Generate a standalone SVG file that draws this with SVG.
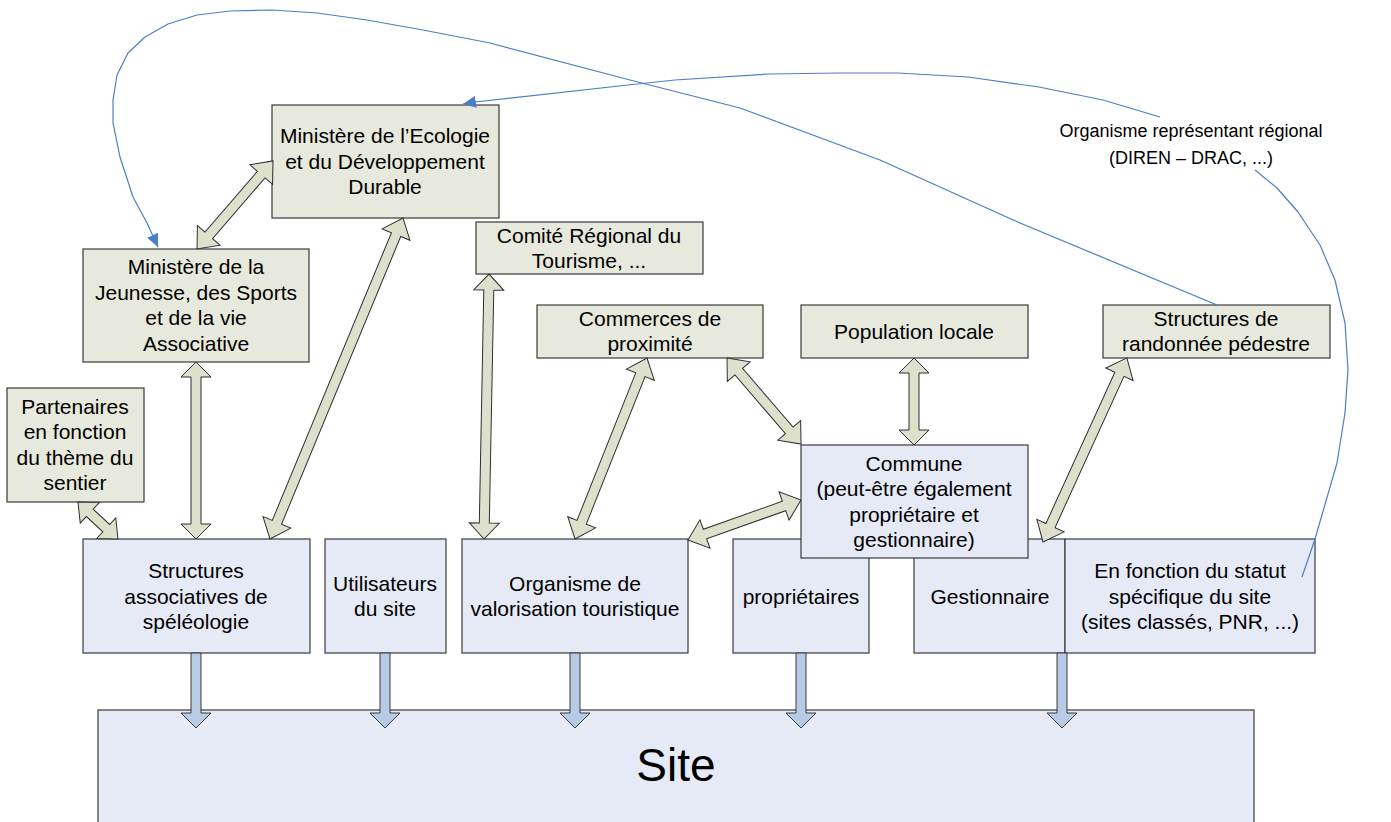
<svg xmlns="http://www.w3.org/2000/svg" width="1391" height="822" viewBox="0 0 1391 822">
<style>
.g{fill:#E7E9DC;stroke:#3a3a3a;stroke-width:1.2}
.b{fill:#E6EAF6;stroke:#3a3a3a;stroke-width:1.2}
text{font-family:"Liberation Sans",Arial,sans-serif;font-size:21px;fill:#000;text-anchor:middle}
.lbl{font-size:18px}
.site{font-size:46px}
.ga{fill:#DDE0CB;stroke:#2f2f2f;stroke-width:1}
.ba{fill:#B8CBE4;stroke:#3a3a3a;stroke-width:1}
.cv{fill:none;stroke:#4A7EC8;stroke-width:1.2;stroke-linejoin:round}
</style>
<defs>
<marker id="ah" markerUnits="userSpaceOnUse" markerWidth="14" markerHeight="12" refX="13" refY="6" orient="auto">
<path d="M0,0 L13,6 L0,12 Z" fill="#4A7EC8"/>
</marker>
<path id="down" d="M-5,653 L5,653 L5,713 L15,713 L0,728 L-15,713 L-5,713 Z"/>
</defs>
<rect width="1391" height="822" fill="#fff"/>

<g id="site"><rect class="b" x="98" y="710" width="1156" height="130"/><text class="site" x="676" y="781">Site</text></g>

<g id="ecologie"><rect class="g" x="272" y="105" width="227" height="113"/>
<text x="385" y="143">Ministère de l’Ecologie</text><text x="385" y="169">et du Développement</text><text x="385" y="194">Durable</text></g>

<g id="jeunesse"><rect class="g" x="83" y="249" width="226" height="113"/>
<text x="196" y="274">Ministère de la</text><text x="196" y="300">Jeunesse, des Sports</text><text x="196" y="325">et de la vie</text><text x="196" y="351">Associative</text></g>

<g id="comite"><rect class="g" x="476" y="222" width="227" height="52"/>
<text x="589" y="243">Comité Régional du</text><text x="589" y="268">Tourisme, ...</text></g>

<g id="commerces"><rect class="g" x="537" y="305" width="226" height="53"/>
<text x="650" y="326">Commerces de</text><text x="650" y="351">proximité</text></g>

<g id="population"><rect class="g" x="801" y="305" width="227" height="53"/>
<text x="914" y="339">Population locale</text></g>

<g id="randonnee"><rect class="g" x="1103" y="305" width="227" height="53"/>
<text x="1216" y="326">Structures de</text><text x="1216" y="351">randonnée pédestre</text></g>

<g id="partenaires"><rect class="g" x="7" y="388" width="137" height="114"/>
<text x="75" y="414">Partenaires</text><text x="75" y="439">en fonction</text><text x="75" y="465">du thème du</text><text x="75" y="490">sentier</text></g>

<g id="structures"><rect class="b" x="83" y="539" width="227" height="114"/>
<text x="196" y="578">Structures</text><text x="196" y="604">associatives de</text><text x="196" y="629">spéléologie</text></g>

<g id="utilisateurs"><rect class="b" x="325" y="539" width="121" height="114"/>
<text x="385" y="591">Utilisateurs</text><text x="385" y="616">du site</text></g>

<g id="organisme"><rect class="b" x="462" y="539" width="226" height="114"/>
<text x="575" y="591">Organisme de</text><text x="575" y="616">valorisation touristique</text></g>

<g id="proprietaires"><rect class="b" x="733" y="539" width="136" height="114"/>
<text x="801" y="604">propriétaires</text></g>

<g id="gestionnaire"><rect class="b" x="914" y="539" width="151" height="114"/>
<text x="990" y="604">Gestionnaire</text></g>

<g id="statut"><rect class="b" x="1065" y="539" width="250" height="114"/>
<text x="1190" y="578">En fonction du statut</text><text x="1190" y="604">spécifique du site</text><text x="1190" y="629">(sites classés, PNR, ...)</text></g>

<g id="commune"><rect class="b" x="801" y="445" width="227" height="113"/>
<text x="914" y="471">Commune</text><text x="914" y="496">(peut-être également</text><text x="914" y="522">propriétaire et</text><text x="914" y="547">gestionnaire)</text></g>

<g id="regional"><text class="lbl" x="1191" y="137">Organisme représentant régional</text><text class="lbl" x="1191" y="164">(DIREN – DRAC, ...)</text></g>

<g id="connectors">
<g transform="translate(197,249) rotate(-49.2)"><path class="ga" d="M0,0 L18,-15 L18,-5 L98.3,-5 L98.3,-15 L116.3,0 L98.3,15 L98.3,5 L18,5 L18,15 Z"/></g>
<g transform="translate(196,362) rotate(90)"><path class="ga" d="M0,0 L15,-15 L15,-5 L162,-5 L162,-15 L177,0 L162,15 L162,5 L15,5 L15,15 Z"/></g>
<g transform="translate(270,539) rotate(-67.5)"><path class="ga" d="M0,0 L18,-15 L18,-5 L329.5,-5 L329.5,-15 L347.5,0 L329.5,15 L329.5,5 L18,5 L18,15 Z"/></g>
<g transform="translate(78,502) rotate(42.8)"><path class="ga" d="M0,0 L16,-14 L16,-5 L38.5,-5 L38.5,-14 L54.5,0 L38.5,14 L38.5,5 L16,5 L16,14 Z"/></g>
<g transform="translate(484,539) rotate(-88.9)"><path class="ga" d="M0,0 L16,-15 L16,-5 L249,-5 L249,-15 L265,0 L249,15 L249,5 L16,5 L16,15 Z"/></g>
<g transform="translate(575,539) rotate(-68.3)"><path class="ga" d="M0,0 L18,-15 L18,-5 L176.8,-5 L176.8,-15 L194.8,0 L176.8,15 L176.8,5 L18,5 L18,15 Z"/></g>
<g transform="translate(727,358) rotate(49.3)"><path class="ga" d="M0,0 L18,-15 L18,-5 L95.5,-5 L95.5,-15 L113.5,0 L95.5,15 L95.5,5 L18,5 L18,15 Z"/></g>
<g transform="translate(914,358) rotate(90)"><path class="ga" d="M0,0 L15,-15 L15,-5 L72,-5 L72,-15 L87,0 L72,15 L72,5 L15,5 L15,15 Z"/></g>
<g transform="translate(688,540) rotate(-19.5)"><path class="ga" d="M0,0 L18,-15 L18,-5 L101.9,-5 L101.9,-15 L119.9,0 L101.9,15 L101.9,5 L18,5 L18,15 Z"/></g>
<g transform="translate(1043,542) rotate(-65.5)"><path class="ga" d="M0,0 L18,-15 L18,-5 L184.3,-5 L184.3,-15 L202.3,0 L184.3,15 L184.3,5 L18,5 L18,15 Z"/></g>

<use href="#down" class="ba" transform="translate(196,0)"/>
<use href="#down" class="ba" transform="translate(385,0)"/>
<use href="#down" class="ba" transform="translate(575,0)"/>
<use href="#down" class="ba" transform="translate(801,0)"/>
<use href="#down" class="ba" transform="translate(1062,0)"/>

<polyline class="cv" marker-end="url(#ah)" points="1217,305 1020,223 880,160 740,108 630,80 490,43 423,30 367,20 317,13 272,10 230,11 197,15 168,24 145,37 128,53 117,75 113,100 113,123 120,157 133,197 147,223 158,247"/>
<polyline class="cv" marker-end="url(#ah)" points="1160,117 1103,100 1039,87 968,77 898,73 839,73 769,74 675,80 628,85 475,102 463,104"/>
<polyline class="cv" points="1255,170 1277,188 1298,212 1320,245 1335,280 1345,323 1348,370 1345,413 1337,463 1315,539 1302,577"/>
</g>
</svg>
